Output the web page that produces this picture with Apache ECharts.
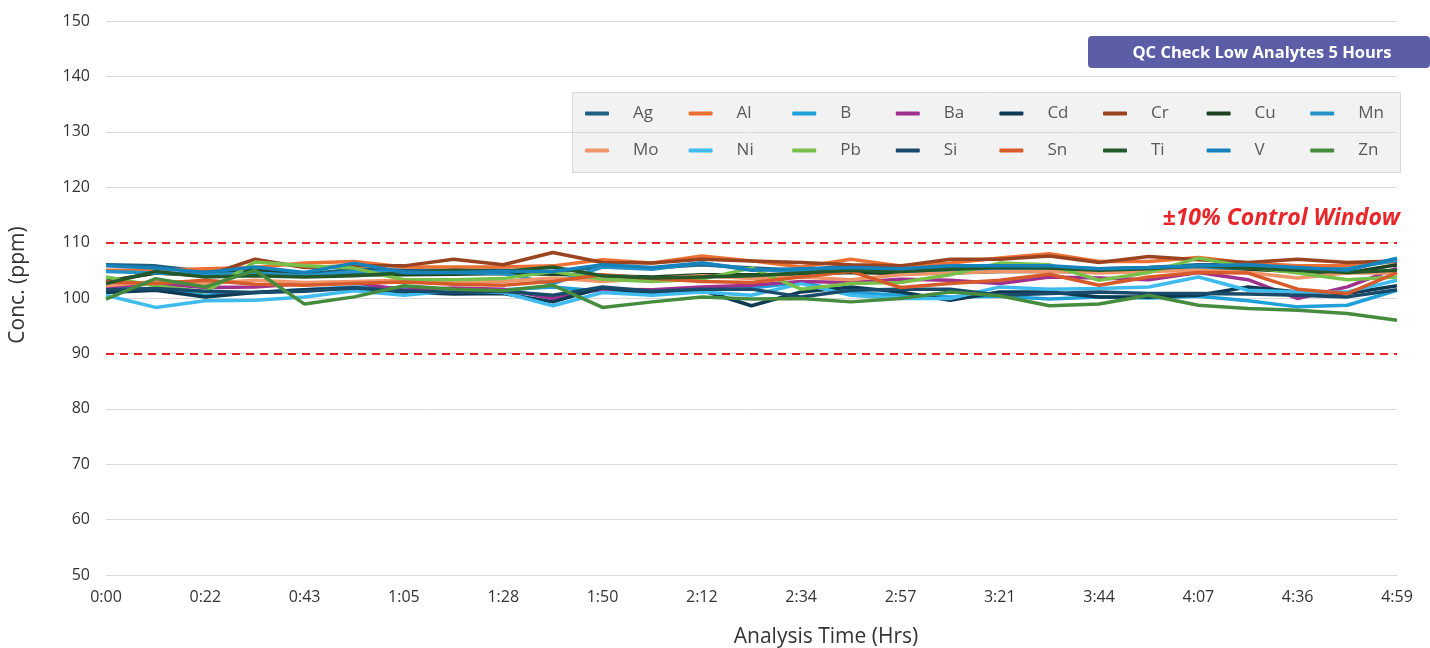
<!DOCTYPE html>
<html><head><meta charset="utf-8">
<script src="https://cdn.jsdelivr.net/npm/echarts@6/dist/echarts.min.js"></script>
<style>html,body{margin:0;padding:0;background:#fff}#c{width:1430px;height:648px}</style>
</head><body><div id="c"></div>
<script>
const times = ['0:00','0:11','0:22','0:33','0:43','0:54','1:05','1:16','1:28','1:39','1:50','2:01','2:12','2:23','2:34','2:45','2:57','3:09','3:21','3:32','3:44','3:55','4:07','4:21','4:36','4:47','4:59'];
const yTicks = [50,60,70,80,90,100,110,120,130,140,150];
const limits = [90,110];
const names = ['Ag','Al','B','Ba','Cd','Cr','Cu','Mn','Mo','Ni','Pb','Si','Sn','Ti','V','Zn'];
const Ag = [106.0,105.8,104.8,105.2,104.3,105.2,105.0,105.0,105.0,104.8,105.6,105.4,106.0,105.4,105.0,105.8,105.5,105.6,105.6,105.5,105.3,105.5,106.0,106.0,105.5,105.4,107.0];
const Al = [105.0,105.0,105.3,105.5,106.3,106.6,105.6,105.6,105.6,105.8,106.9,106.3,107.6,106.7,105.6,107.0,105.8,106.3,107.2,108.0,106.6,106.6,107.3,106.3,105.8,105.8,106.6];
const B  = [101.8,101.5,100.5,101.0,101.5,102.0,101.8,101.0,101.5,102.0,101.2,101.0,101.5,101.8,102.8,101.0,100.5,100.2,100.3,99.8,100.2,100.0,100.3,99.5,98.4,98.7,101.4];
const Ba = [102.0,102.6,101.9,102.0,102.6,102.8,101.4,101.8,101.6,99.9,101.6,101.5,102.0,102.3,103.0,102.8,103.4,103.2,102.6,103.8,103.6,103.3,104.6,103.3,99.9,102.0,105.4];
const Cd = [101.0,101.4,100.2,101.0,101.5,101.8,101.1,100.7,100.8,99.3,101.9,100.8,101.4,98.6,101.1,102.0,101.1,99.6,101.1,101.1,100.2,100.2,100.5,102.0,101.1,100.8,102.2];
const Cr = [103.0,104.5,104.0,107.0,105.5,105.8,105.8,107.0,106.0,108.2,106.4,106.3,107.0,106.7,106.4,106.0,105.8,107.0,107.0,107.6,106.4,107.5,106.9,106.4,107.0,106.4,106.7];
const Cu = [103.0,104.5,104.2,105.0,104.0,104.2,104.2,104.3,104.4,104.3,104.0,103.8,104.2,104.2,104.3,104.6,104.4,104.5,104.8,104.8,104.8,105.4,105.4,105.2,104.8,104.5,106.0];
const Mn = [104.8,104.5,104.2,104.5,104.0,104.8,104.6,104.6,104.4,102.6,105.6,105.2,106.3,105.2,104.8,105.2,104.8,105.0,105.3,105.3,105.0,105.2,105.4,105.5,105.0,105.3,106.8];
const Mo = [102.2,103.0,102.6,103.2,102.8,103.0,103.2,102.8,103.0,103.6,103.0,103.5,104.0,103.5,103.8,103.3,104.2,104.5,104.8,104.8,104.5,104.8,105.0,104.6,103.6,104.5,104.5];
const Ni = [100.5,98.3,99.5,99.6,100.2,101.3,100.5,101.3,101.0,98.6,101.0,100.5,101.1,100.5,102.6,100.5,99.9,99.9,102.0,101.6,101.7,102.0,103.8,101.4,101.1,101.1,103.2];
const Pb = [103.8,102.2,101.1,106.5,105.8,105.4,103.3,103.3,103.5,104.8,103.4,103.0,103.4,105.4,101.6,102.6,102.8,104.2,106.3,106.0,103.2,104.6,107.2,105.6,104.5,103.3,103.8];
const Si = [101.5,101.7,101.2,101.0,101.2,101.8,101.3,101.0,101.2,100.5,102.0,101.2,101.6,101.6,100.2,101.4,101.6,101.6,100.5,100.8,101.1,100.8,100.8,100.7,100.5,100.2,101.5];
const Sn = [102.9,102.6,103.2,102.5,102.3,102.6,102.9,102.5,102.3,103.0,104.2,103.5,103.0,102.8,103.8,104.8,101.9,102.6,103.2,104.3,102.3,103.8,104.6,104.5,101.6,100.8,104.6];
const Ti = [102.6,104.8,103.8,104.0,103.8,104.0,104.5,105.0,104.8,105.6,104.0,103.6,103.8,104.0,104.5,105.0,104.8,105.2,105.5,105.4,105.0,105.3,105.8,105.4,105.0,104.6,105.0];
const V  = [105.8,105.4,104.6,105.6,104.6,106.3,104.6,104.6,104.8,104.8,106.0,105.5,106.3,105.0,105.3,105.5,105.3,105.8,105.8,105.8,105.3,105.5,105.8,106.0,105.5,105.0,107.2];
const Zn = [99.8,103.5,102.0,105.0,98.9,100.2,102.2,101.6,101.3,102.3,98.3,99.3,100.2,99.8,99.9,99.3,99.9,101.1,100.4,98.6,98.9,100.5,98.7,98.1,97.8,97.2,96.0];
const values = {Ag,Al,B,Ba,Cd,Cr,Cu,Mn,Mo,Ni,Pb,Si,Sn,Ti,V,Zn};
const colors = {Ag:'#1f5f80',Al:'#ed7033',B:'#1ea0d8',Ba:'#a0308f',Cd:'#0d3a52',Cr:'#9a4320',Cu:'#1d4220',Mn:'#2593c8',Mo:'#f0956a',Ni:'#3fbbed',Pb:'#78c04a',Si:'#1a4a6a',Sn:'#d65a2a',Ti:'#22582a',V:'#1682bb',Zn:'#468c3e'};

const FONT = 'Open Sans';
const series = names.map((n,i)=>{
  const s = {name:n,type:'line',data:values[n],showSymbol:false,symbol:'none',
    lineStyle:{width:3.5,color:colors[n]},itemStyle:{color:colors[n]},z:2};
  if(i===0){
    s.markLine={silent:true,symbol:'none',label:{show:false},
      lineStyle:{color:'#e8262a',type:[8,6],width:2},
      data:limits.map(v=>({yAxis:v}))};
  }
  return s;
});
const legends = names.map((n,i)=>({
  data:[n], left:580 + (i%8)*103.6, top: i<8 ? 100 : 137,
  itemWidth:24,itemHeight:4,icon:'roundRect',
  textStyle:{fontFamily:FONT,fontSize:17,color:'#595959',padding:[0,0,0,19]}
}));
const chart = echarts.init(document.getElementById('c'));
chart.setOption({
  animation:false,
  grid:{left:106,right:33,top:21,bottom:73},
  legend:legends,
  xAxis:{type:'category',data:times,boundaryGap:false,
    axisLine:{show:false},axisTick:{show:false},
    axisLabel:{interval:1,margin:14,fontFamily:FONT,fontSize:16,color:'#333'},
    splitLine:{show:false}},
  yAxis:{type:'value',min:yTicks[0],max:yTicks[yTicks.length-1],interval:10,
    axisLine:{show:false},axisTick:{show:false},
    axisLabel:{margin:16,fontFamily:FONT,fontSize:16,color:'#333'},
    splitLine:{lineStyle:{color:'#d9d9d9',width:1}}},
  graphic:[
    {type:'rect',left:572,top:92,shape:{width:828,height:80},style:{fill:'#f2f2f2',stroke:'#d9d9d9',lineWidth:1},z:-1},
    {type:'rect',left:1088,top:36,shape:{width:342,height:32,r:4},style:{fill:'#5b5ea6'}},
    {type:'text',x:1262,y:53,style:{text:'QC Check Low Analytes 5 Hours',fill:'#fff',font:'bold 16.5px "Open Sans"',textAlign:'center',textVerticalAlign:'middle'}},
    {type:'text',x:1400,y:218,style:{text:'±10% Control Window',fill:'#e8262a',font:'italic bold 23px "Open Sans"',textAlign:'right',textVerticalAlign:'middle'}},
    {type:'text',x:826,y:637,style:{text:'Analysis Time (Hrs)',fill:'#333',font:'21px "Open Sans"',textAlign:'center',textVerticalAlign:'middle'}},
    {type:'text',x:18,y:285,rotation:Math.PI/2,style:{text:'Conc. (ppm)',fill:'#333',font:'21px "Open Sans"',textAlign:'center',textVerticalAlign:'middle'}}
  ],
  series:series
});
</script></body></html>
